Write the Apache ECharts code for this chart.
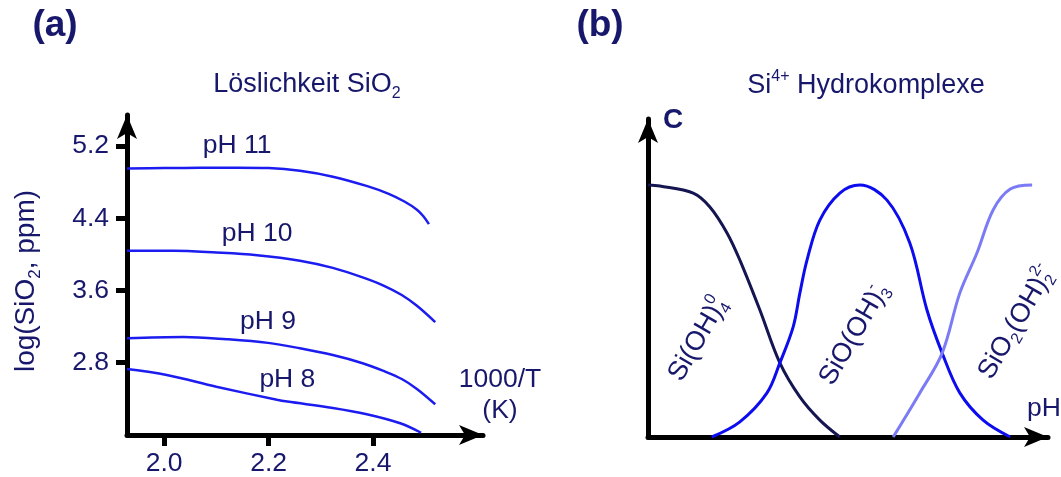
<!DOCTYPE html>
<html>
<head>
<meta charset="utf-8">
<script src="https://cdn.jsdelivr.net/npm/echarts@6/dist/echarts.min.js"></script>
<style>
  html, body { margin: 0; padding: 0; background: #fff; }
  #chart { width: 1061px; height: 477px; }
</style>
</head>
<body>
<div id="chart"></div>
<script>
// (a) SiO2 solubility vs. 1000/T for several pH levels
const phLevels = ['pH 11', 'pH 10', 'pH 9', 'pH 8'];
const ph11 = [[1.929, 4.95], [2.0, 4.955], [2.069, 4.96], [2.14, 4.96], [2.2, 4.955], [2.26, 4.925], [2.323, 4.86], [2.389, 4.755], [2.43, 4.67], [2.46, 4.585], [2.484, 4.495], [2.496, 4.425], [2.507, 4.335]];
const ph10 = [[1.929, 4.04], [2.018, 4.04], [2.1, 4.02], [2.178, 3.99], [2.26, 3.93], [2.323, 3.85], [2.38, 3.745], [2.42, 3.655], [2.455, 3.55], [2.484, 3.43], [2.519, 3.25]];
const ph9 = [[1.929, 3.07], [2.037, 3.085], [2.12, 3.06], [2.199, 3.02], [2.26, 2.96], [2.323, 2.885], [2.38, 2.795], [2.42, 2.71], [2.455, 2.62], [2.484, 2.51], [2.519, 2.34]];
const ph8 = [[1.929, 2.73], [2.005, 2.665], [2.1, 2.535], [2.216, 2.39], [2.236, 2.37], [2.323, 2.30], [2.388, 2.23], [2.452, 2.13], [2.492, 2.025]];
const phCurves = [ph11, ph10, ph9, ph8];
const phLabelAt = [2.14, 2.178, 2.199, 2.236];
const invTTicks = [2.0, 2.2, 2.4];
const logTicks = [2.8, 3.6, 4.4, 5.2];

// (b) relative concentration of Si4+ hydroxo complexes vs. pH
const siOH4 = [[7.0, 1.0], [7.25, 0.996], [7.95, 0.968], [8.30, 0.913], [8.66, 0.810], [8.93, 0.702], [9.35, 0.504], [9.77, 0.294], [10.19, 0.159], [10.61, 0.067], [11.03, 0]];
const siOOH3 = [[8.34, 0], [8.93, 0.06], [9.5, 0.175], [9.77, 0.294], [10.05, 0.437], [10.19, 0.571], [10.34, 0.702], [10.61, 0.861], [11.03, 0.968], [11.45, 1.0], [12.02, 0.94], [12.5, 0.77], [12.86, 0.504], [13.18, 0.333], [13.55, 0.175], [14.04, 0.067], [14.61, 0]];
const siO2OH2 = [[12.15, 0], [12.71, 0.175], [13.18, 0.333], [13.55, 0.571], [13.91, 0.730], [14.25, 0.901], [14.61, 0.984], [15.07, 1.0]];

const navy = '#17176b';
const font = 'Liberation Sans, Arial, sans-serif';
const FS = 26.5;

const axisLineStyle = { color: '#000', width: 5 };
const arrowLine = {
  show: true, onZero: false, lineStyle: axisLineStyle,
  symbol: ['none', 'arrow'], symbolSize: [15, 24]
};

// m: main text, b: subscript, p: superscript, s: subscript stacked under the following superscript
function richSet(size) {
  const small = Math.round(size * 0.6);
  const base = { fontFamily: font, color: navy, fill: navy };
  return {
    m: Object.assign({ fontSize: size, lineHeight: Math.round(size * 1.25), verticalAlign: 'middle' }, base),
    b: Object.assign({ fontSize: small, lineHeight: small, verticalAlign: 'bottom' }, base),
    s: Object.assign({ fontSize: small, lineHeight: small, verticalAlign: 'bottom', width: 0.01 }, base),
    p: Object.assign({ fontSize: small, lineHeight: small, verticalAlign: 'top' }, base)
  };
}

const leftSeries = phCurves.map((pts, i) => ({
  type: 'line',
  name: phLevels[i],
  xAxisIndex: 0, yAxisIndex: 0,
  smooth: 0.35,
  symbol: 'circle', symbolSize: 0, showSymbol: true,
  lineStyle: { color: '#1c1cf0', width: 2.5 },
  itemStyle: { color: '#1c1cf0' },
  emphasis: { disabled: true },
  silent: true,
  data: pts.map(p => p[0] === phLabelAt[i]
    ? { value: p, label: { show: true, formatter: phLevels[i], position: 'top', distance: 8,
        fontSize: FS, fontFamily: font, color: navy } }
    : p)
}));

function rightLine(data, color) {
  return {
    type: 'line', xAxisIndex: 1, yAxisIndex: 1,
    smooth: 0.35, showSymbol: false,
    lineStyle: { color: color, width: 3 },
    emphasis: { disabled: true }, silent: true,
    data: data
  };
}

function gText(x, y, text, extra) {
  extra = extra || {};
  const size = (extra.style && extra.style.fontSize) || FS;
  return Object.assign({
    type: 'text', x: x, y: y, silent: true,
    style: Object.assign({ text: text, fill: navy, fontSize: size, fontFamily: font,
      align: 'center', verticalAlign: 'middle', rich: richSet(size) }, extra.style)
  }, extra.el);
}

// species labels are slanted along the curves
const slant = 60 * Math.PI / 180;

const chart = echarts.init(document.getElementById('chart'), null, { renderer: 'canvas' });
chart.setOption({
  animation: false,
  backgroundColor: '#fff',
  grid: [
    { left: 127, top: 115, width: 356, height: 320 },
    { left: 648, top: 119, width: 400, height: 318 }
  ],
  xAxis: [
    {
      gridIndex: 0, type: 'value', min: 1.929, max: 2.6105,
      axisLine: arrowLine,
      splitLine: { show: false },
      axisTick: { show: true, length: 11, customValues: invTTicks, lineStyle: { color: '#000', width: 5 } },
      axisLabel: { customValues: invTTicks, margin: 15, fontSize: FS, fontFamily: font, color: navy,
        formatter: v => v.toFixed(1) }
    },
    {
      gridIndex: 1, type: 'value', min: 7, max: 15.403,
      axisLine: arrowLine,
      splitLine: { show: false }, axisTick: { show: false }, axisLabel: { show: false }
    }
  ],
  yAxis: [
    {
      gridIndex: 0, type: 'value', min: 2.0, max: 5.543,
      axisLine: arrowLine,
      splitLine: { show: false },
      axisTick: { show: true, length: 11, customValues: logTicks, lineStyle: { color: '#000', width: 5 } },
      axisLabel: { customValues: logTicks, margin: 18, fontSize: FS, fontFamily: font, color: navy,
        formatter: v => v.toFixed(1) },
      name: '{m|log(SiO}{b|2}{m|, ppm)}',
      nameLocation: 'middle', nameGap: 83,
      nameTextStyle: { rich: richSet(28), padding: [0, 12, 0, 0] }
    },
    {
      gridIndex: 1, type: 'value', min: 0, max: 1.262,
      axisLine: arrowLine,
      splitLine: { show: false }, axisTick: { show: false }, axisLabel: { show: false }
    }
  ],
  series: leftSeries.concat([
    rightLine(siOH4, '#151552'),
    rightLine(siOOH3, '#0c0cee'),
    rightLine(siO2OH2, '#7b7bf6')
  ]),
  graphic: [
    gText(55, 26, '(a)', { style: { fontSize: 37, fontWeight: 'bold' } }),
    gText(600, 26, '(b)', { style: { fontSize: 37, fontWeight: 'bold' } }),
    gText(307, 85, '{m|Löslichkeit SiO}{b|2}', { style: { fontSize: 27 } }),
    gText(866, 86, '{m|Si}{p|4+}{m| Hydrokomplexe}', { style: { fontSize: 27 } }),
    gText(500, 395, '1000/T\n(K)', { style: { lineHeight: 31 } }),
    gText(673, 120, 'C', { style: { fontSize: 28, fontWeight: 'bold' } }),
    gText(1044, 409, 'pH'),
    gText(675, 379, '{m|Si(OH)}{s|4}{p|0}', { style: { align: 'left', fontSize: 27 }, el: { rotation: slant } }),
    gText(826, 383, '{m|SiO(OH)}{s|3}{p|-}', { style: { align: 'left', fontSize: 27 }, el: { rotation: slant } }),
    gText(985, 377, '{m|SiO}{b|2}{m|(OH)}{s|2}{p|2-}', { style: { align: 'left', fontSize: 27 }, el: { rotation: slant } })
  ]
});
</script>
</body>
</html>
